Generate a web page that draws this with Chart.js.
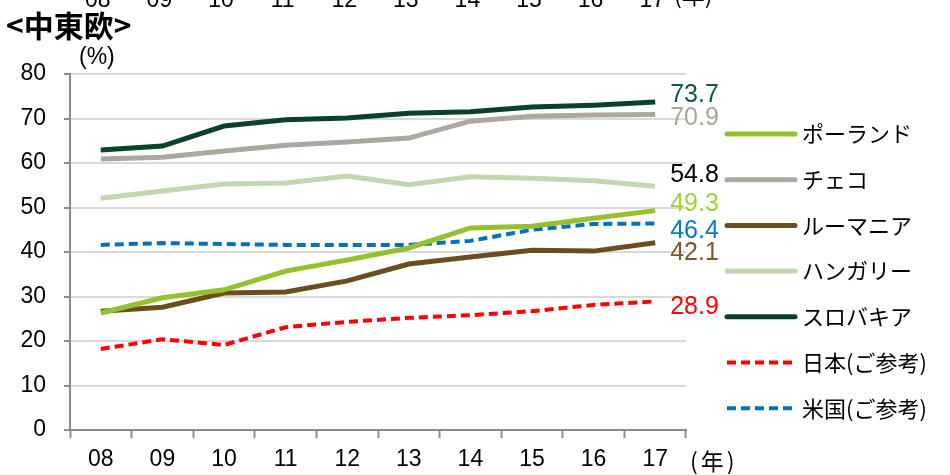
<!DOCTYPE html>
<html>
<head>
<meta charset="utf-8">
<script src="https://cdn.jsdelivr.net/npm/chart.js@4/dist/chart.umd.min.js"></script>
<style>
html,body{margin:0;padding:0;background:#fff;}
#wrap{position:relative;width:950px;height:475px;}
canvas{display:block;}
</style>
</head>
<body>
<div id="wrap"><canvas id="c" width="950" height="475"></canvas></div>
<script>
const categories = ['08','09','10','11','12','13','14','15','16','17'];
const yTicks = [0,10,20,30,40,50,60,70,80];

const poland   = [26.3, 29.7, 31.5, 35.7, 38.2, 40.9, 45.4, 45.8, 47.6, 49.3];
const czech    = [60.9, 61.3, 62.7, 64.0, 64.7, 65.6, 69.4, 70.5, 70.8, 70.9];
const romania  = [26.7, 27.6, 30.8, 31.0, 33.5, 37.3, 38.9, 40.4, 40.2, 42.1];
const hungary  = [52.1, 53.7, 55.3, 55.5, 57.1, 55.1, 56.9, 56.6, 56.0, 54.8];
const slovakia = [62.9, 63.8, 68.3, 69.7, 70.1, 71.2, 71.5, 72.6, 73.0, 73.7];
const japan    = [18.2, 20.4, 19.1, 23.1, 24.3, 25.2, 25.8, 26.7, 28.1, 28.9];
const usa      = [41.6, 42.0, 41.8, 41.6, 41.6, 41.6, 42.5, 45.0, 46.3, 46.4];

const seriesNames = ['ポーランド','チェコ','ルーマニア','ハンガリー','スロバキア','日本(ご参考)','米国(ご参考)'];
const seriesData  = [poland, czech, romania, hungary, slovakia, japan, usa];
const seriesColors = ['#95c12e','#aca89f','#6b4e1e','#c3d6b0','#0b4128','#ff0000','#0070c0'];
const labelColors  = ['#a2cf3a','#a9a69a','#7a5a28','#000000','#0f5a3a','#ff0000','#0a78c8'];
const labelDy      = [-7, 4, 10, -11, -7, 6, 8];
const dashed       = [false,false,false,false,false,true,true];

const LATIN = "'Liberation Sans', Arial, sans-serif";
const CJK = "'Noto Sans CJK JP', 'Liberation Sans', sans-serif";

const datasets = seriesNames.map((n,i)=>({
  label: n,
  data: seriesData[i],
  borderColor: seriesColors[i],
  backgroundColor: seriesColors[i],
  borderWidth: dashed[i] ? 4 : 5,
  borderDash: dashed[i] ? [9,5] : [],
  pointRadius: 0,
  tension: 0,
  fill: false,
  order: i
}));

const extras = {
  id: 'extras',
  afterDraw(chart){
    const ctx = chart.ctx;
    const xs = chart.scales.x, ys = chart.scales.y;
    ctx.save();
    // cut-off labels from a chart above
    ctx.fillStyle = '#000';
    ctx.font = '23px ' + LATIN;
    ctx.textAlign = 'center';
    ctx.textBaseline = 'alphabetic';
    categories.forEach((c,i)=>{ ctx.fillText(c, xs.getPixelForValue(i) - 3, 7); });
    ctx.textAlign = 'left';
    ctx.font = '23px ' + CJK;
    ctx.fillText('(年)', 674, 4);
    // title
    ctx.font = 'bold 30px ' + CJK;
    ctx.textAlign = 'left';
    ctx.textBaseline = 'middle';
    ctx.fillText('<中東欧>', 6, 26);
    // unit
    ctx.font = '23px ' + LATIN;
    ctx.fillText('(%)', 79, 58);
    // year
    ctx.font = '23px ' + CJK;
    ctx.letterSpacing = '3px';
    ctx.fillText('(年)', 690, 461);
    ctx.letterSpacing = '0px';
    // end value labels
    ctx.font = '25px ' + LATIN;
    chart.data.datasets.forEach((ds,i)=>{
      const last = ds.data.length-1;
      const x = xs.getPixelForValue(last) + 15;
      const y = ys.getPixelForValue(ds.data[last]) + labelDy[i];
      ctx.fillStyle = labelColors[i];
      ctx.fillText(ds.data[last].toFixed(1), x, y);
    });
    // legend
    const lx0 = 727, lx1 = 795, tx = 802, ly0 = 134, step = 45.7;
    chart.data.datasets.forEach((ds,i)=>{
      const y = ly0 + i*step;
      ctx.strokeStyle = ds.borderColor;
      ctx.lineWidth = ds.borderWidth;
      ctx.lineCap = dashed[i] ? 'butt' : 'round';
      ctx.setLineDash(ds.borderDash);
      ctx.beginPath(); ctx.moveTo(lx0, y); ctx.lineTo(lx1, y); ctx.stroke();
      ctx.setLineDash([]);
      ctx.fillStyle = '#000';
      ctx.font = '22px ' + CJK;
      ctx.fillText(ds.label, tx, y);
    });
    ctx.restore();
  }
};

new Chart(document.getElementById('c'), {
  type: 'line',
  data: { labels: categories, datasets },
  options: {
    responsive: false,
    animation: false,
    layout: { padding: { top: 74, right: 264, bottom: 0, left: 0 } },
    plugins: { legend: { display: false }, tooltip: { enabled: false }, title: { display: false } },
    scales: {
      x: {
        type: 'category',
        offset: true,
        grid: { offset: true, drawOnChartArea: false, drawTicks: true, tickLength: 8, tickColor: '#8c8c8c', tickWidth: 2 },
        border: { display: true, color: '#8c8c8c', width: 2 },
        ticks: { font: { size: 23, family: LATIN }, color: '#000', padding: 8, maxRotation: 0, autoSkip: false },
        afterFit(s){ s.height = 45; }
      },
      y: {
        min: 0, max: 80,
        afterBuildTicks(s){ s.ticks = yTicks.map(v=>({value:v})); },
        grid: { color: '#d9d9d9', lineWidth: 2, tickLength: 6, tickColor: '#8c8c8c', tickWidth: 2 },
        border: { display: true, color: '#8c8c8c', width: 2 },
        ticks: { font: { size: 23, family: LATIN }, color: '#000', padding: 18 },
        afterFit(s){ s.width = 70; }
      }
    }
  },
  plugins: [extras]
});
</script>
</body>
</html>
